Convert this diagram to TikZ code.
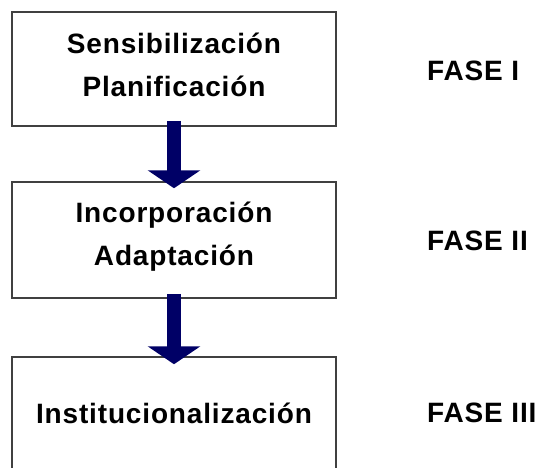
\documentclass[tikz,border=0pt]{standalone}
\usepackage{fontspec}
\setmainfont{Liberation Sans}[LetterSpace=3]
\usetikzlibrary{arrows.meta}
\definecolor{boxline}{RGB}{64,64,64}
\definecolor{arrowblue}{RGB}{0,0,102}
\begin{document}
\begin{tikzpicture}[x=1pt,y=-1pt,
  phasebox/.style={draw=boxline, line width=1.5pt, fill=white, minimum width=324pt,
    inner sep=0pt, align=center, font=\fontsize{28}{43}\selectfont\bfseries},
  phaselabel/.style={anchor=base west, inner sep=0pt, font=\fontsize{28}{34}\selectfont\bfseries},
  flow/.style={arrowblue, line width=14pt, -{Triangle[width=52pt,length=18pt]}}]
\useasboundingbox (0,0) rectangle (544,467);
\begin{scope}
\clip (0,0) rectangle (544,467);
\node[phasebox, minimum height=114pt] (b1) at (174,69) {Sensibilización\\Planificación\\[-33.7pt]\mbox{}};
\node[phasebox, minimum height=116pt] (b2) at (174,240) {Incorporación\\Adaptación\\[-30.7pt]\mbox{}};
\node[phasebox, minimum height=112pt] (b3) at (174,413) {Institucionalización};
\end{scope}
\node[phaselabel] (f1) at (427,80) {FASE I};
\node[phaselabel] (f2) at (427,250) {FASE II};
\node[phaselabel] (f3) at (427,422.5) {FASE III};
\draw[flow] ([yshift=6pt]b1.south) -- ([yshift=-7pt]b2.north);
\draw[flow] ([yshift=5pt]b2.south) -- ([yshift=-8pt]b3.north);
\end{tikzpicture}
\end{document}
